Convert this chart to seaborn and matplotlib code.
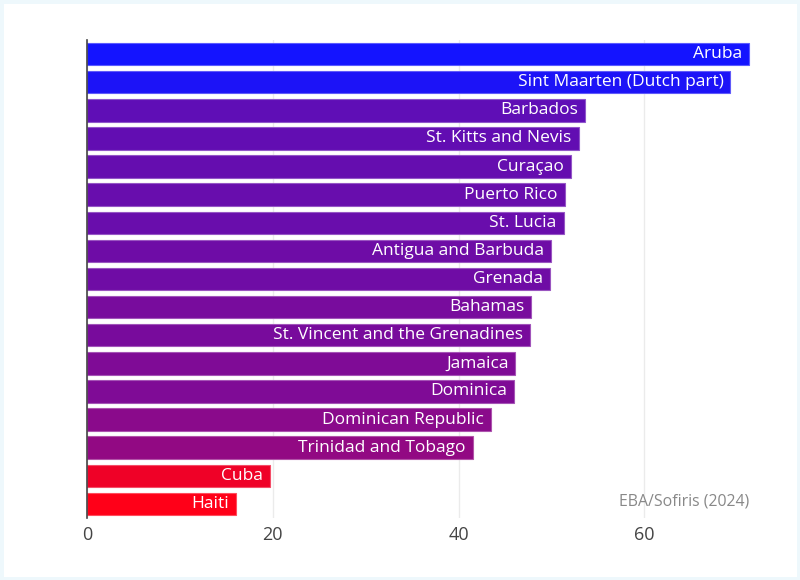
import matplotlib
matplotlib.use("Agg")
import matplotlib.pyplot as plt
import seaborn as sns
import pandas as pd
import numpy as np
from matplotlib.colors import LinearSegmentedColormap, to_hex, to_rgb

countries = ["Aruba", "Sint Maarten (Dutch part)", "Barbados", "St. Kitts and Nevis",
             "Curaçao", "Puerto Rico", "St. Lucia", "Antigua and Barbuda", "Grenada",
             "Bahamas", "St. Vincent and the Grenadines", "Jamaica", "Dominica",
             "Dominican Republic", "Trinidad and Tobago", "Cuba", "Haiti"]
values = [71.25, 69.25, 53.6, 52.9, 52.1, 51.4, 51.3, 49.9, 49.8, 47.8, 47.7,
          46.1, 46.0, 43.5, 41.5, 19.7, 16.0]
x_ticks = [0, 20, 40, 60]
source = "EBA/Sofiris (2024)"

sns.set_theme(style="white")
plt.rcParams['font.family'] = ['Open Sans', 'DejaVu Sans']

df = pd.DataFrame({"country": countries, "value": values})

cmap = LinearSegmentedColormap.from_list("rb", ["#ff0018", "#1414ff"])
vmin, vmax = min(values), max(values)
palette = {c: to_hex(cmap((v - vmin) / (vmax - vmin))) for c, v in zip(countries, values)}

fig = plt.figure(figsize=(8, 5.8), dpi=100)
fig.patch.set_facecolor("white")
fig.patch.set_edgecolor("#eef8fc")
fig.patch.set_linewidth(5)
ax = fig.add_axes([87/800, 1 - 518/580, (782 - 87)/800, (518 - 40)/580])

sns.barplot(data=df, y="country", x="value", hue="country", palette=palette,
            order=countries, legend=False, width=0.8, ax=ax, saturation=1,
            edgecolor="none")

for p in ax.patches:
    fc = np.array(to_rgb(p.get_facecolor()))
    p.set_edgecolor(tuple(fc + (1 - fc) * 0.3))
    p.set_linewidth(0.8)

ax.set_xlim(0, 74.8)
ax.set_ylim(16.5, -0.5)
ax.set_xticks(x_ticks)
ax.set_xticklabels([str(t) for t in x_ticks], fontsize=13, color="#444444")
ax.set_yticks([])
ax.set_xlabel("")
ax.set_ylabel("")
ax.grid(axis="x", color="#ebebeb", linewidth=1)
ax.set_axisbelow(True)
for s in ["top", "right", "bottom"]:
    ax.spines[s].set_visible(False)
ax.spines["left"].set_color("#444444")
ax.spines["left"].set_linewidth(1.2)
ax.tick_params(axis="x", length=0, pad=6)

for i, (c, v) in enumerate(zip(countries, values)):
    ax.annotate(c, xy=(v, i), xytext=(-5, 0), textcoords="offset points",
                ha="right", va="center", color="white", fontsize=12.5)

ax.text(0.953, 0.034, source, transform=ax.transAxes, ha="right", va="center",
        fontsize=11.4, color="#888888")

fig.savefig("out.png", dpi=100)
